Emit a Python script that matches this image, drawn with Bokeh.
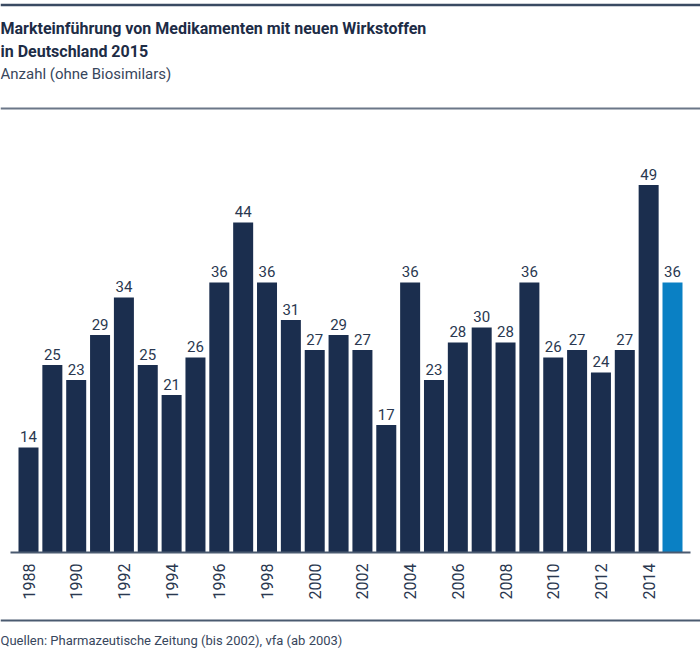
import math
from bokeh.plotting import figure
from bokeh.models import Range1d, ColumnDataSource, Label
from bokeh.core.properties import value
from bokeh.embed import file_html
from bokeh.resources import INLINE

# ---- data ----
years = list(range(1988, 2016))
counts = [14, 25, 23, 29, 34, 25, 21, 26, 36, 44, 36, 31, 27, 29,
          27, 17, 36, 23, 28, 30, 28, 36, 26, 27, 24, 27, 49, 36]
tick_years = list(range(1988, 2015, 2))
tick_labels = [str(y) for y in tick_years]
title_lines = ["Markteinführung von Medikamenten mit neuen Wirkstoffen",
               "in Deutschland 2015"]
subtitle = "Anzahl (ohne Biosimilars)"
source_note = "Quellen: Pharmazeutische Zeitung (bis 2002), vfa (ab 2003)"

# ---- layout (pixel geometry of the canvas) ----
W, H = 700, 650
PX_FIRST, PX_LAST = 28.0, 672.0
PX_PER_YEAR = (PX_LAST - PX_FIRST) / (years[-1] - years[0])
BASE_PX = 552.0
PX_PER_UNIT = 7.5

x_start = years[0] - PX_FIRST / PX_PER_YEAR
x_end = years[0] + (W - PX_FIRST) / PX_PER_YEAR
y_end = BASE_PX / PX_PER_UNIT
y_start = (BASE_PX - H) / PX_PER_UNIT

def fx(px):
    return x_start + px / PX_PER_YEAR

def fy(py):
    return (BASE_PX - py) / PX_PER_UNIT

NAVY = "#1b2e4e"
BLUE = "#0a80c4"
LINE = "#4a5a70"
TEXT = "#2a3850"

p = figure(width=W, height=H, x_range=Range1d(x_start, x_end),
           y_range=Range1d(y_start, y_end), output_backend="svg",
           toolbar_location=None, min_border=0, outline_line_color=None,
           background_fill_color="white", border_fill_color="white")
p.axis.visible = False
p.grid.visible = False

colors = [NAVY] * (len(years) - 1) + [BLUE]
src = ColumnDataSource(dict(x=years, top=counts, color=colors,
                            lbl=[str(c) for c in counts]))
p.vbar(x="x", top="top", bottom=0, width=20 / PX_PER_YEAR,
       fill_color="color", line_color=None, source=src)

p.text(x="x", y="top", text="lbl", source=src, y_offset=-11,
       text_align="center", text_baseline="alphabetic",
       text_font=value("Roboto"), text_font_size="15px",
       text_color=TEXT)

tsrc = ColumnDataSource(dict(x=tick_years, y=[fy(563)] * len(tick_years),
                             t=tick_labels))
p.text(x="x", y="y", text="t", source=tsrc, angle=math.pi / 2,
       text_align="right", text_baseline="middle",
       text_font=value("Roboto"), text_font_size="16px", text_color=TEXT)

p.segment(x0=[fx(0)], x1=[fx(W)], y0=[fy(4.5)], y1=[fy(4.5)],
          line_color="#3a4a62", line_width=2.5)
p.segment(x0=[fx(0)], x1=[fx(W)], y0=[fy(108)], y1=[fy(108)],
          line_color="#6b7788", line_width=2)
p.segment(x0=[fx(10)], x1=[fx(690)], y0=[0], y1=[0],
          line_color=LINE, line_width=2)
p.segment(x0=[fx(0)], x1=[fx(W)], y0=[fy(620)], y1=[fy(620)],
          line_color=LINE, line_width=2)

for i, line in enumerate(title_lines):
    p.add_layout(Label(x=fx(0), y=fy(28 + 22.5 * i), text=line,
                       text_font="Roboto", text_font_style="bold",
                       text_font_size="16px", text_color="#1d2c46",
                       text_baseline="alphabetic"))
p.add_layout(Label(x=fx(0), y=fy(73), text=subtitle,
                   text_font="Roboto", text_font_size="15px",
                   text_color="#37465c", text_baseline="alphabetic"))
p.add_layout(Label(x=fx(0), y=fy(640), text=source_note,
                   text_font="Roboto", text_font_size="13px",
                   text_color="#37465c", text_baseline="alphabetic"))

open("out.html", "w").write(file_html(p, INLINE))
